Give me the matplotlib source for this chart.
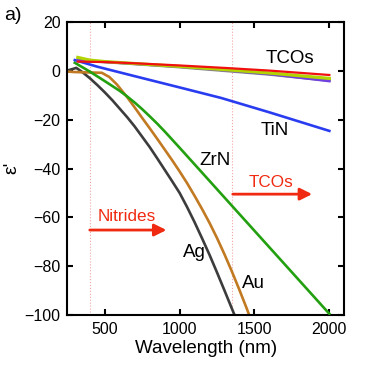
import matplotlib
matplotlib.use("Agg")
import matplotlib.pyplot as plt

plt.rcParams.update({"font.family": ["Liberation Sans", "DejaVu Sans"], "axes.linewidth": 1.5})

# permittivity curves, wavelength (nm) vs eps'
ag_wl = [260, 310, 350, 400, 450, 500, 550, 600, 650, 700, 750, 800, 850, 900, 950,
         1000, 1050, 1100, 1150, 1200, 1250, 1300, 1350, 1372]
ag_eps = [0.3, 1.2, -0.5, -3, -5.8, -8.8, -12, -15.5, -19, -22.8, -27, -31.2, -35.8, -40.5, -45.2,
          -50, -55.8, -62, -68.6, -75.4, -82.6, -90, -97.5, -100.8]

au_wl = [250, 300, 480, 530, 580, 650, 700, 750, 800, 850, 900, 950, 1000, 1050, 1100,
         1150, 1200, 1250, 1300, 1350, 1400, 1450, 1468]
au_eps = [-0.3, -0.5, -0.8, -2.5, -5.5, -10.8, -15, -19.3, -23.5, -27.8, -32.2, -36.6, -41.2, -46, -51.2,
          -56.6, -62.3, -68.5, -75.2, -82.3, -89.8, -97.6, -100.6]

zrn_wl = [300, 400, 500, 600, 650, 700, 750, 800, 850, 900, 1000, 1100, 1200, 1300, 1400, 1500,
          1600, 1700, 1800, 1900, 2000]
zrn_eps = [3.3, -0.3, -4.2, -8.2, -10.5, -13.0, -15.7, -18.6, -21.6, -24.8, -31.5, -38.3, -45.1, -51.9,
           -58.7, -65.5, -72.3, -79.1, -85.9, -92.7, -99.5]

tin_wl = [300, 450, 740, 1000, 1277, 1600, 2000]
tin_eps = [4.4, 1.7, -2.8, -6.8, -11.1, -17, -24.6]

tco_wl = [320, 400, 500, 700, 1000, 1300, 1600, 2000]
tco_gray = [4.6, 4.0, 3.6, 2.8, 1.5, 0.0, -1.5, -4.0]
tco_purple = [4.4, 4.0, 3.7, 2.9, 1.7, 0.3, -1.3, -4.2]
tco_yg = [5.5, 4.4, 3.8, 3.0, 1.8, 0.5, -0.9, -3.1]
tco_red = [3.8, 3.7, 3.6, 3.1, 2.2, 1.2, 0.1, -1.7]

nitride_edge = 400
tco_edge = 1350

fig = plt.figure(figsize=(3.81, 3.71), dpi=100)
ax = fig.add_axes([0.1767, 0.1509, 0.727, 0.7898])

lw = 1.9
ax.axvline(nitride_edge, color="#f4a6a6", lw=0.8, ls=":", zorder=0)
ax.axvline(tco_edge, color="#f4a6a6", lw=0.8, ls=":", zorder=0)

ax.plot(ag_wl, ag_eps, color="#3c3c3c", lw=lw, zorder=2)
ax.plot(au_wl, au_eps, color="#c27a22", lw=lw, zorder=2)
ax.plot(zrn_wl, zrn_eps, color="#22a010", lw=lw, zorder=3)
ax.plot(tin_wl, tin_eps, color="#2a3cf0", lw=lw, zorder=4)
ax.plot(tco_wl, tco_gray, color="#8a8a8a", lw=lw, zorder=5)
ax.plot(tco_wl, tco_purple, color="#7040e0", lw=lw, zorder=5)
ax.plot(tco_wl, tco_yg, color="#b2d400", lw=lw + 0.4, zorder=6)
ax.plot(tco_wl, tco_red, color="#f01010", lw=lw - 0.3, zorder=7)

ax.set_xlim(250, 2100)
ax.set_ylim(-100, 20)
ax.set_xticks([500, 1000, 1500, 2000])
ax.set_yticks(range(-100, 21, 20))
ax.tick_params(direction="in", top=True, right=True, length=4, width=1.5,
               labelsize=11.5, pad=5)

ax.set_xlabel("Wavelength (nm)", fontsize=13.5, labelpad=2)
fig.text(11.5 / 381, 1 - 168 / 371, "ε'", rotation=90, fontsize=14, ha="center", va="center")
fig.text(13 / 381, 1 - 15 / 371, "a)", fontsize=14, ha="center", va="center")

lab = dict(fontsize=13.5, ha="center", va="center")
ax.text(1734, 5.1, "TCOs", **lab)
ax.text(1637, -24.6, "TiN", **lab)
ax.text(1234, -36.8, "ZrN", **lab)
ax.text(1101, -74.5, "Ag", **lab)
ax.text(1490, -87.2, "Au", **lab)

red = "#f02a10"
ax.text(650, -59.5, "Nitrides", color=red, fontsize=12.3, ha="center", va="center")
ax.annotate("", xy=(912, -65.2), xytext=(400, -65.2),
            arrowprops=dict(arrowstyle="-|>", color=red, lw=2, mutation_scale=18, shrinkA=0, shrinkB=0))
ax.text(1613, -45.9, "TCOs", color=red, fontsize=12.3, ha="center", va="center")
ax.annotate("", xy=(1885, -50.5), xytext=(1355, -50.5),
            arrowprops=dict(arrowstyle="-|>", color=red, lw=2, mutation_scale=18, shrinkA=0, shrinkB=0))

fig.savefig("out.png", dpi=100, facecolor="white")
